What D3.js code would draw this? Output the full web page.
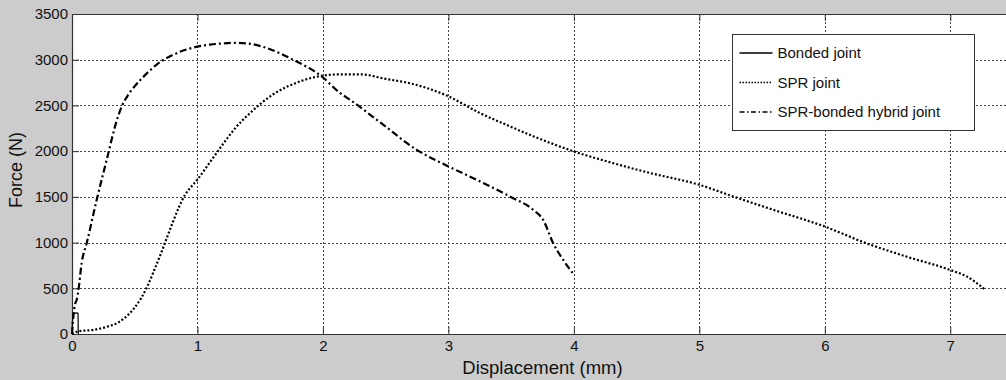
<!DOCTYPE html>
<html>
<head>
<meta charset="utf-8">
<script src="https://cdn.jsdelivr.net/npm/d3@7"></script>
<style>
  body { margin: 0; background: #cccccc; }
  #chart svg { display: block; font-family: "Liberation Sans", Arial, sans-serif; }
  .tick text { fill: #111; }
</style>
</head>
<body>
<div id="chart"></div>
<script>
// tick values
const xTicks = [0, 1, 2, 3, 4, 5, 6, 7];
const yTicks = [0, 500, 1000, 1500, 2000, 2500, 3000, 3500];

// Bonded joint (solid, only a tiny blip near the origin)
const bondedDisp  = [0, 0.004, 0.01, 0.025, 0.04, 0.048, 0.05];
const bondedForce = [0, 150, 220, 228, 230, 225, 0];

// SPR joint (dotted)
const sprDisp  = [0, 0.05, 0.17, 0.28, 0.38, 0.46, 0.5, 0.55, 0.6, 0.65, 0.7, 0.75, 0.8, 0.85, 0.9, 0.95, 1.0, 1.1, 1.2, 1.3, 1.42, 1.6, 1.82, 2.0, 2.14, 2.3, 2.5, 2.7, 2.85, 3.0, 3.15, 3.25, 3.46, 3.68, 4.0, 4.31, 4.61, 5.0, 5.27, 5.59, 6.0, 6.33, 6.65, 7.0, 7.13, 7.27];
const sprForce = [0, 30, 45, 80, 135, 227, 290, 390, 520, 680, 850, 1030, 1210, 1380, 1520, 1610, 1690, 1880, 2070, 2250, 2418, 2618, 2764, 2826, 2840, 2840, 2790, 2740, 2680, 2600, 2490, 2418, 2289, 2161, 1997, 1870, 1760, 1632, 1504, 1358, 1175, 993, 847, 700, 630, 493];

// SPR-bonded hybrid joint (dash-dot)
const hybridDisp  = [0, 0.01, 0.025, 0.037, 0.05, 0.077, 0.117, 0.197, 0.29, 0.343, 0.4, 0.45, 0.5, 0.56, 0.675, 0.81, 0.99, 1.1, 1.2, 1.3, 1.4, 1.55, 1.76, 1.99, 2.135, 2.215, 2.48, 2.745, 3.0, 3.225, 3.49, 3.676, 3.755, 3.835, 3.915, 4.0];
const hybridForce = [0, 180, 330, 372, 470, 777, 993, 1468, 1979, 2271, 2500, 2620, 2710, 2800, 2947, 3056, 3140, 3165, 3178, 3184, 3178, 3129, 3001, 2818, 2637, 2563, 2289, 2016, 1833, 1687, 1504, 1358, 1249, 993, 811, 650];

const legendLabels = ["Bonded joint", "SPR joint", "SPR-bonded hybrid joint"];
const yLabel = "Force (N)";
const xLabel = "Displacement (mm)";

function drawChart() {
  const margin = {top: 14, left: 72},
      width = 941,
      height = 320;

  const svg = d3.select("#chart")
    .append("svg")
      .attr("width", 1006)
      .attr("height", 380)
    .append("g")
      .attr("transform", `translate(${margin.left}, ${margin.top})`);

  const x = d3.scaleLinear().domain([0, 7.5]).range([0, width]);
  const y = d3.scaleLinear().domain([0, 3500]).range([height, 0]);

  // white axes background
  svg.append("rect")
    .attr("x", 0).attr("y", 0)
    .attr("width", width).attr("height", height)
    .attr("fill", "#ffffff");

  // grid lines
  const grid = svg.append("g")
    .attr("stroke", "#444")
    .attr("stroke-width", 1)
    .attr("stroke-dasharray", "2,2")
    .attr("shape-rendering", "crispEdges");

  grid.selectAll("line.vx")
    .data(xTicks.filter(d => d > 0))
    .join("line")
      .attr("class", "vx")
      .attr("x1", d => Math.round(x(d)) + 0.5)
      .attr("x2", d => Math.round(x(d)) + 0.5)
      .attr("y1", 0).attr("y2", height);

  grid.selectAll("line.hy")
    .data(yTicks.filter(d => d > 0 && d < 3500))
    .join("line")
      .attr("class", "hy")
      .attr("x1", 0).attr("x2", width)
      .attr("y1", d => Math.round(y(d)) + 0.5)
      .attr("y2", d => Math.round(y(d)) + 0.5);

  // axes (ticks pointing inwards like matlab)
  const xAxis = svg.append("g")
    .attr("transform", `translate(0, ${height})`)
    .call(d3.axisBottom(x).tickValues(xTicks).tickSize(-7).tickPadding(6).tickFormat(d3.format("d")));
  const xTop = svg.append("g")
    .call(d3.axisTop(x).tickValues(xTicks).tickSize(-7).tickFormat(""));
  const yAxis = svg.append("g")
    .call(d3.axisLeft(y).tickValues(yTicks).tickSize(-7).tickPadding(4).tickFormat(d3.format("d")));

  [xAxis, xTop, yAxis].forEach(a => {
    a.select(".domain").remove();
    a.selectAll(".tick line").attr("stroke", "#333");
    a.selectAll(".tick text")
      .style("font-size", "15px")
      .style("font-family", "'Liberation Sans', Arial, sans-serif");
  });
  yAxis.selectAll(".tick text").attr("x", -4);

  // axes box
  svg.append("path")
    .attr("d", `M0.5,${height + 0.5}V0.5H${width}M0.5,${height + 0.5}H${width}`)
    .attr("fill", "none")
    .attr("stroke", "#333")
    .attr("stroke-width", 1.2);

  // series
  const series = [
    {name: "bonded", disp: bondedDisp, force: bondedForce, dash: null, w: 1.2},
    {name: "spr", disp: sprDisp, force: sprForce, dash: "2,2", w: 2.2},
    {name: "hybrid", disp: hybridDisp, force: hybridForce, dash: "7,3,2,3", w: 2.2}
  ];

  const line = d3.line()
    .x(d => x(d[0]))
    .y(d => y(d[1]))
    .curve(d3.curveMonotoneX);

  svg.selectAll("path.series")
    .data(series)
    .join("path")
      .attr("class", d => "series " + d.name)
      .attr("d", d => (d.name === "bonded" ? d3.line().x(p => x(p[0])).y(p => y(p[1])) : line)(d.disp.map((v, i) => [v, d.force[i]])))
      .attr("fill", "none")
      .attr("stroke", "#000")
      .attr("stroke-width", d => d.w)
      .attr("stroke-dasharray", d => d.dash);

  // legend
  const lg = svg.append("g")
    .attr("transform", `translate(${660.5}, ${20.5})`);
  lg.append("rect")
    .attr("width", 242).attr("height", 96)
    .attr("fill", "#fff")
    .attr("stroke", "#333")
    .attr("stroke-width", 1);
  const rows = lg.selectAll("g.row")
    .data(series)
    .join("g")
      .attr("class", "row")
      .attr("transform", (d, i) => `translate(0, ${18.5 + i * 29.5})`);
  rows.append("line")
    .attr("x1", 7).attr("x2", 40)
    .attr("stroke", "#000")
    .attr("stroke-width", 1.5)
    .attr("stroke-dasharray", d => d.dash ? (d.name === "spr" ? "1.5,1.5" : "5,2.5,1.5,2.5") : null);
  rows.append("text")
    .attr("x", 45)
    .attr("dy", "0.35em")
    .style("font-size", "15px")
    .style("fill", "#111")
    .text((d, i) => legendLabels[i]);

  // axis labels
  svg.append("text")
    .attr("transform", `translate(${width / 2}, ${height + 40})`)
    .style("text-anchor", "middle")
    .style("font-size", "18.5px")
    .style("fill", "#111")
    .text(xLabel);

  svg.append("text")
    .attr("transform", "rotate(-90)")
    .attr("x", -height / 2 + 4)
    .attr("y", -50)
    .style("text-anchor", "middle")
    .style("font-size", "18px")
    .style("fill", "#111")
    .text(yLabel);
}

drawChart();
</script>
</body>
</html>
